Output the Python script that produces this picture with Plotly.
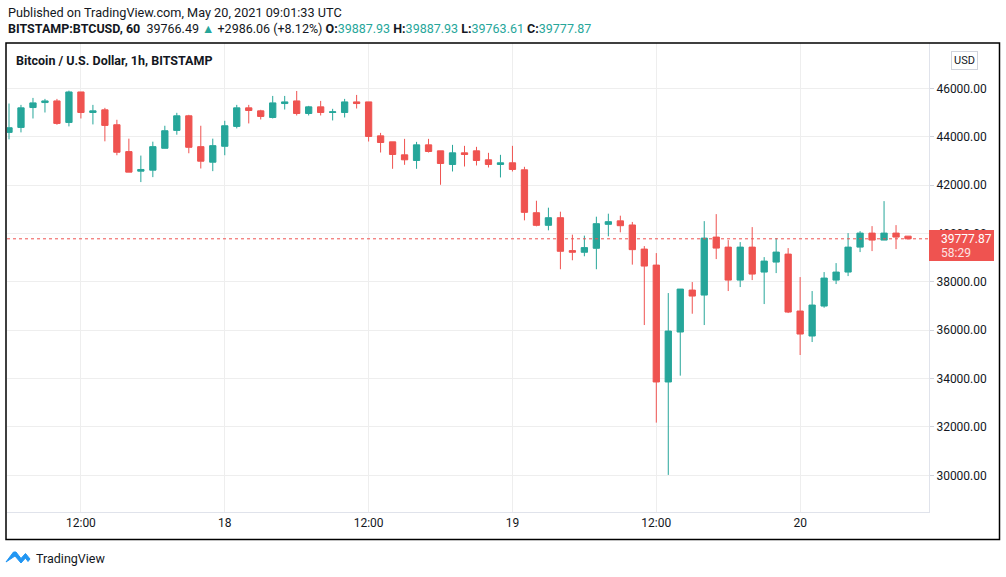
import pandas as pd
import plotly.graph_objects as go

# hourly BTCUSD candles, 17 May 06:00 -> 20 May 09:00 (UTC)
times = pd.date_range("2021-05-17 06:00", "2021-05-20 09:00", freq="h")

open_ = [44178, 44383, 45205, 45411, 45479, 44589, 45849, 45000, 45110, 44493,
         43383, 42575, 42616, 43520, 44260, 44863, 43589, 42945, 43603, 44425,
         45192, 45068, 44794, 45370, 45479, 44959, 45233, 45000, 45000, 45438,
         45438, 44034, 43786, 43250, 43016, 43662, 43415, 42851, 43332, 43415,
         43044, 42851, 42920, 42631, 40857, 40335, 40651, 39290, 39222, 39386,
         40376, 40520, 40350, 39353, 38692, 33859, 35924, 37659, 37452, 39849,
         39435, 38072, 39435, 38403, 38816, 39146, 36792, 35759, 36998, 38072,
         38403, 39435, 40014, 39725, 40014, 39887.93]
high = [45370, 45315, 45603, 45562, 45562, 45904, 45849, 45315, 45192, 44699,
        43918, 43219, 43794, 44452, 44986, 44904, 44452, 43918, 44657, 45315,
        45315, 45110, 45685, 45685, 45890, 45274, 45479, 45151, 45562, 45726,
        45438, 44157, 43786, 43910, 43786, 43910, 43415, 43662, 43621, 43580,
        43332, 43250, 43621, 42755, 41352, 41064, 40899, 39950, 39909, 40692,
        40816, 40734, 40475, 39477, 39188, 37535, 37700, 37990, 40509, 40799,
        39725, 39642, 40262, 39022, 39807, 39394, 38196, 37618, 38403, 38774,
        40014, 40096, 40303, 41336, 40344, 39887.93]
low = [43890, 44178, 44753, 45000, 44493, 44425, 44753, 44507, 43808, 43233,
       42534, 42123, 42328, 43520, 44082, 43315, 42685, 42575, 43233, 44342,
       44548, 44712, 44753, 45123, 44877, 44877, 44877, 44671, 44794, 45164,
       43800, 43346, 42672, 42837, 42672, 43346, 42012, 42562, 42767, 42810,
       42727, 42315, 42562, 40541, 40294, 40129, 38520, 38891, 39056, 38520,
       39881, 40046, 38710, 36213, 32179, 30017, 34120, 36681, 36213, 38940,
       37618, 37783, 38072, 37081, 38361, 36709, 34974, 35511, 36929, 37907,
       38237, 39229, 39270, 39725, 39353, 39763.61]
close = [44370, 45192, 45397, 45479, 44548, 45849, 45000, 45068, 44466, 43356,
         42534, 42644, 43589, 44246, 44863, 43561, 42986, 43630, 44452, 45192,
         45082, 44836, 45397, 45438, 44959, 45233, 45000, 45027, 45438, 45370,
         44010, 43759, 43264, 43044, 43662, 43387, 42892, 43332, 43264, 43016,
         42851, 42920, 42645, 40871, 40335, 40651, 39262, 39222, 39414, 40404,
         40486, 40320, 39330, 38651, 33859, 35965, 37700, 37411, 39807, 39394,
         38072, 39435, 38320, 38857, 39229, 36750, 35841, 37039, 38155, 38403,
         39435, 40014, 39725, 40014, 39849, 39777.87]

last_price = 39777.87
countdown = "58:29"

x_tickvals = ["2021-05-17 12:00", "2021-05-18 00:00", "2021-05-18 12:00",
              "2021-05-19 00:00", "2021-05-19 12:00", "2021-05-20 00:00"]
x_ticktext = ["12:00", "18", "12:00", "19", "12:00", "20"]
y_tickvals = [30000, 32000, 34000, 36000, 38000, 40000, 42000, 44000, 46000]

GREEN = "#26a69a"
RED = "#ef5350"
TXT = "#131722"
GRID = "#eeeeee"
FONT = "Roboto"

W, H = 1006, 577
PL, PR, PT, PB = 7, 929, 43, 512


def px(x):
    return (x - PL) / (PR - PL)


def py(y):
    return (PB - y) / (PB - PT)


fig = go.Figure(go.Candlestick(
    x=times, open=open_, high=high, low=low, close=close,
    increasing=dict(line=dict(color=GREEN, width=1), fillcolor=GREEN),
    decreasing=dict(line=dict(color=RED, width=1), fillcolor=RED),
    whiskerwidth=0, showlegend=False, hoverinfo="skip",
))

fig.update_layout(
    width=W, height=H,
    margin=dict(l=PL, r=W - PR, t=PT, b=H - PB),
    paper_bgcolor="white", plot_bgcolor="white",
    font=dict(family=FONT, size=12, color=TXT),
    boxgap=0.25,
    showlegend=False,
)
fig.update_xaxes(
    rangeslider_visible=False,
    range=["2021-05-17 05:50", "2021-05-20 10:45"],
    tickvals=x_tickvals, ticktext=x_ticktext,
    showgrid=True, gridcolor=GRID, gridwidth=1,
    showline=True, linecolor="#e0e3eb", linewidth=1,
    ticks="", tickfont=dict(size=12, color=TXT),
    zeroline=False,
)
fig.update_yaxes(
    side="right", range=[28484, 47873],
    tickvals=y_tickvals, tickformat=".2f",
    showgrid=True, gridcolor=GRID, gridwidth=1,
    showline=True, linecolor="#e0e3eb", linewidth=1,
    ticks="outside", ticklen=4, tickcolor="#d1d4dc",
    tickfont=dict(size=12, color=TXT), zeroline=False,
)

shapes = [
    # last price dotted line
    dict(type="line", xref="paper", yref="y", x0=0, x1=1, y0=last_price, y1=last_price,
         line=dict(color=RED, width=1, dash="dot")),
    # last price label on the scale
    dict(type="rect", xref="paper", yref="paper", x0=px(929), x1=px(994), y0=py(261), y1=py(230),
         fillcolor=RED, line=dict(width=0), layer="above"),
    # outer frame
    dict(type="rect", xref="paper", yref="paper", x0=px(6), x1=px(999.5), y0=py(539.5), y1=py(43),
         line=dict(color="#000000", width=1.5), layer="above"),
    # TradingView logo
    dict(type="path", xref="paper", yref="paper",
         path="M %f %f L %f %f L %f %f L %f %f L %f %f L %f %f L %f %f L %f %f L %f %f L %f %f Z" % (
             px(6), py(562), px(13.5), py(552), px(16), py(552), px(21), py(558.5),
             px(25.5), py(553.5), px(30), py(559), px(28), py(561.5), px(25.5), py(558),
             px(21), py(563), px(15), py(556)),
         fillcolor="#2196f3", line=dict(color="#2196f3", width=1)),
]
fig.update_layout(shapes=shapes)

line2 = ("<b>BITSTAMP:BTCUSD, 60</b>  39766.49 <span style='color:%s'>▲</span> +2986.06 (+8.12%%) "
         "<b>O:</b><span style='color:%s'>39887.93</span> <b>H:</b><span style='color:%s'>39887.93</span> "
         "<b>L:</b><span style='color:%s'>39763.61</span> <b>C:</b><span style='color:%s'>39777.87</span>"
         % (GREEN, GREEN, GREEN, GREEN, GREEN))

ann = [
    dict(text="Published on TradingView.com, May 20, 2021 09:01:33 UTC",
         x=px(6), y=py(12), xanchor="left", yanchor="middle", font=dict(size=12.7)),
    dict(text=line2, x=px(6), y=py(29), xanchor="left", yanchor="middle", font=dict(size=12.5)),
    dict(text="<b>Bitcoin / U.S. Dollar, 1h, BITSTAMP</b>",
         x=px(14), y=py(60), xanchor="left", yanchor="middle", font=dict(size=12.5)),
    dict(text="USD", x=px(964), y=py(60), xanchor="center", yanchor="middle",
         font=dict(size=11), bordercolor="#d1d4dc", borderwidth=1, borderpad=2, bgcolor="white"),
    dict(text="%.2f" % last_price, x=px(939), y=py(239), xanchor="left", yanchor="middle",
         font=dict(size=12, color="white")),
    dict(text=countdown, x=px(939), y=py(253), xanchor="left", yanchor="middle",
         font=dict(size=12, color="#fde3e3")),
    dict(text="TradingView", x=px(34), y=py(558), xanchor="left", yanchor="middle",
         font=dict(size=12.5)),
]
for a in ann:
    a.update(xref="paper", yref="paper", showarrow=False)
fig.update_layout(annotations=ann)

fig.write_html("out.html", config={"displayModeBar": False},
               post_script="document.body.style.margin='0';")
